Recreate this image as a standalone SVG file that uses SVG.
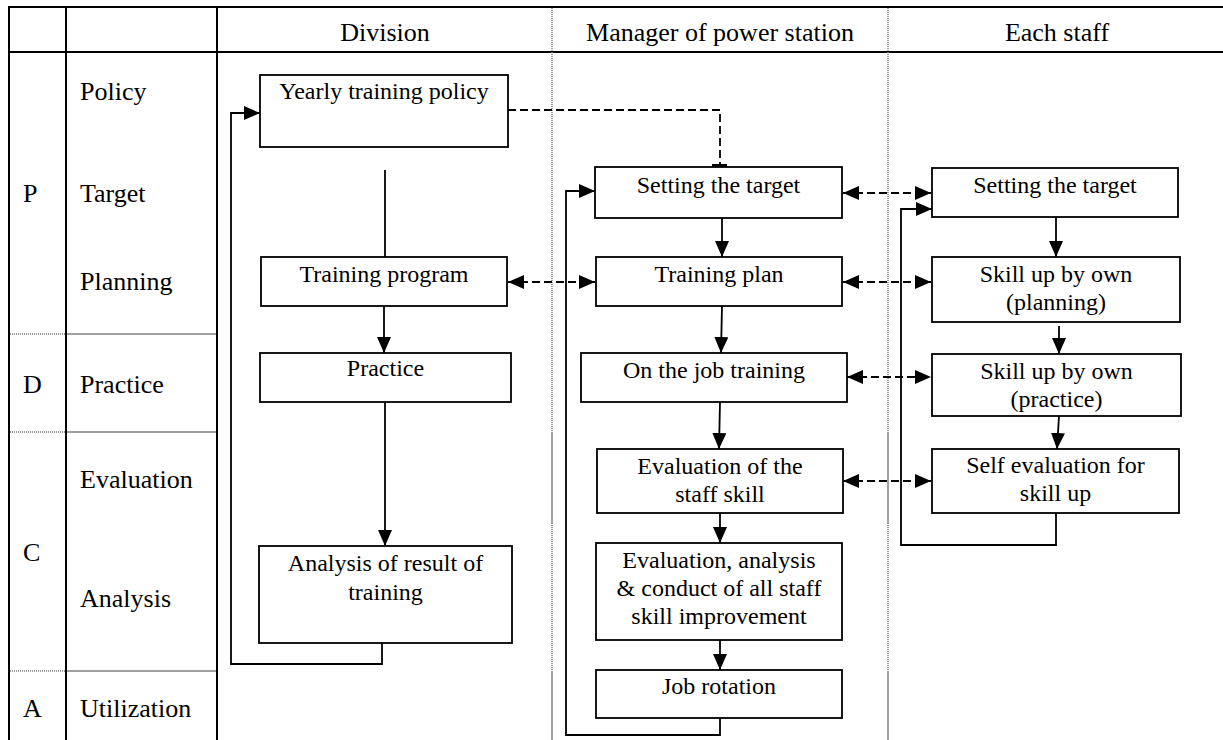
<svg xmlns="http://www.w3.org/2000/svg" width="1223" height="740" viewBox="0 0 1223 740">
  <style>
    .grid { stroke: #000; stroke-width: 2; fill: none; }
    .dot { stroke: #777; stroke-width: 1.5; stroke-dasharray: 1 1; fill: none; }
    .soft { stroke: #a0a0a0; stroke-width: 2; fill: none; }
    .hd { font-size: 26px; fill: #000; }
    .box rect { fill: #fff; stroke: #000; stroke-width: 1.8; }
    .box text { font-size: 24px; fill: #000; text-anchor: middle; }
    .flow { stroke: #000; stroke-width: 1.8; fill: none; }
    .link { stroke: #000; stroke-width: 1.8; fill: none; stroke-dasharray: 8 4; }
  </style>
  <defs>
    <marker id="head" markerUnits="userSpaceOnUse" markerWidth="16" markerHeight="14" refX="16" refY="7" orient="auto">
      <path d="M0,0 L16,7 L0,14 z" fill="#000"/>
    </marker>
    <marker id="tail" markerUnits="userSpaceOnUse" markerWidth="16" markerHeight="14" refX="0" refY="7" orient="auto">
      <path d="M16,0 L0,7 L16,14 z" fill="#000"/>
    </marker>
  </defs>

  <rect width="1223" height="740" fill="#fff"/>

  <!-- table frame -->
  <g id="table">
    <line class="grid" x1="9" y1="7" x2="1223" y2="7"/>
    <line class="grid" x1="9" y1="52" x2="1223" y2="52"/>
    <line class="grid" x1="9" y1="6" x2="9" y2="740"/>
    <line class="grid" x1="66" y1="6" x2="66" y2="740"/>
    <line class="grid" x1="217" y1="6" x2="217" y2="740"/>
    <!-- phase separators -->
    <line class="dot" x1="10" y1="334" x2="66" y2="334"/>
    <line class="soft" x1="67" y1="334" x2="216" y2="334"/>
    <line class="dot" x1="10" y1="432" x2="66" y2="432"/>
    <line class="soft" x1="67" y1="432" x2="216" y2="432"/>
    <line class="dot" x1="10" y1="671" x2="66" y2="671"/>
    <line class="soft" x1="67" y1="671" x2="216" y2="671"/>
    <!-- lane separators -->
    <line class="dot" x1="552" y1="8" x2="552" y2="432"/>
    <line class="soft" x1="552" y1="432" x2="552" y2="523"/>
    <line class="dot" x1="552" y1="523" x2="552" y2="672"/>
    <line class="soft" x1="552" y1="672" x2="552" y2="740"/>
    <line class="dot" x1="888" y1="8" x2="888" y2="432"/>
    <line class="soft" x1="888" y1="432" x2="888" y2="523"/>
    <line class="dot" x1="888" y1="523" x2="888" y2="672"/>
    <line class="soft" x1="888" y1="672" x2="888" y2="740"/>
  </g>

  <!-- headings -->
  <g id="headings" font-family="'Liberation Serif', 'DejaVu Serif', serif">
    <text class="hd" x="385" y="41" text-anchor="middle">Division</text>
    <text class="hd" x="720" y="41" text-anchor="middle">Manager of power station</text>
    <text class="hd" x="1057" y="41" text-anchor="middle">Each staff</text>
    <text class="hd" x="80" y="100">Policy</text>
    <text class="hd" x="23" y="202">P</text>
    <text class="hd" x="80" y="202">Target</text>
    <text class="hd" x="80" y="290">Planning</text>
    <text class="hd" x="23" y="393">D</text>
    <text class="hd" x="80" y="393">Practice</text>
    <text class="hd" x="80" y="488">Evaluation</text>
    <text class="hd" x="23" y="561">C</text>
    <text class="hd" x="80" y="607">Analysis</text>
    <text class="hd" x="23" y="717">A</text>
    <text class="hd" x="80" y="717">Utilization</text>
  </g>

  <!-- connectors -->
  <g id="connectors">
    <line class="flow" x1="385" y1="170" x2="385" y2="257"/>
    <line class="flow" x1="384" y1="306" x2="384" y2="353" marker-end="url(#head)"/>
    <line class="flow" x1="385" y1="402" x2="385" y2="546" marker-end="url(#head)"/>
    <polyline class="flow" points="382,643 382,664 231,664 231,113 260,113" marker-end="url(#head)"/>
    <polyline class="link" points="508,110 720,110 720,165"/>
    <rect x="712" y="164" width="15" height="3" fill="#000"/>
    <polyline class="flow" points="720,718 720,735 566,735 566,191 595,191" marker-end="url(#head)"/>
    <line class="flow" x1="722" y1="218" x2="722" y2="257" marker-end="url(#head)"/>
    <line class="flow" x1="722" y1="306" x2="721" y2="353" marker-end="url(#head)"/>
    <line class="flow" x1="720" y1="402" x2="719" y2="449" marker-end="url(#head)"/>
    <line class="flow" x1="720" y1="513" x2="720" y2="543" marker-end="url(#head)"/>
    <line class="flow" x1="720" y1="640" x2="720" y2="670" marker-end="url(#head)"/>
    <line class="flow" x1="1056" y1="217" x2="1056" y2="257" marker-end="url(#head)"/>
    <line class="flow" x1="1059" y1="326" x2="1059" y2="354" marker-end="url(#head)"/>
    <line class="flow" x1="1059" y1="416" x2="1057" y2="449" marker-end="url(#head)"/>
    <polyline class="flow" points="1056,513 1056,545 901,545 901,209 932,209" marker-end="url(#head)"/>
    <line class="link" x1="508" y1="282" x2="595" y2="282" marker-start="url(#tail)" marker-end="url(#head)"/>
    <line class="link" x1="843" y1="193" x2="931" y2="193" marker-start="url(#tail)" marker-end="url(#head)"/>
    <line class="link" x1="843" y1="282" x2="931" y2="282" marker-start="url(#tail)" marker-end="url(#head)"/>
    <line class="link" x1="847" y1="377" x2="931" y2="377" marker-start="url(#tail)" marker-end="url(#head)"/>
    <line class="link" x1="843" y1="481" x2="931" y2="481" marker-start="url(#tail)" marker-end="url(#head)"/>
  </g>

  <g id="nodes" font-family="'Liberation Serif', 'DejaVu Serif', serif">
    <!-- Division lane -->
    <g id="yearly-policy" class="box">
      <rect x="260" y="75" width="248" height="72"/>
      <text x="384" y="99">Yearly training policy</text>
    </g>
    <g id="training-program" class="box">
      <rect x="261" y="257" width="246" height="49"/>
      <text x="384" y="282">Training program</text>
    </g>
    <g id="division-practice" class="box">
      <rect x="260" y="353" width="251" height="49"/>
      <text x="385.5" y="376">Practice</text>
    </g>
    <g id="result-analysis" class="box">
      <rect x="259" y="546" width="253" height="97"/>
      <text x="385.5" y="571">Analysis of result of</text>
      <text x="385.5" y="600">training</text>
    </g>

    <!-- Manager lane -->
    <g id="manager-target" class="box">
      <rect x="595" y="167" width="247" height="51"/>
      <text x="718.5" y="193">Setting the target</text>
    </g>
    <g id="training-plan" class="box">
      <rect x="596" y="257" width="246" height="49"/>
      <text x="719" y="282">Training plan</text>
    </g>
    <g id="ojt" class="box">
      <rect x="581" y="353" width="266" height="49"/>
      <text x="714" y="378">On the job training</text>
    </g>
    <g id="staff-skill-eval" class="box">
      <rect x="597" y="449" width="246" height="64"/>
      <text x="720" y="474">Evaluation of the</text>
      <text x="720" y="501.5">staff skill</text>
    </g>
    <g id="overall-eval" class="box">
      <rect x="596" y="543" width="246" height="97"/>
      <text x="719" y="568">Evaluation, analysis</text>
      <text x="719" y="596">&amp; conduct of all staff</text>
      <text x="719" y="624">skill improvement</text>
    </g>
    <g id="job-rotation" class="box">
      <rect x="596" y="670" width="246" height="48"/>
      <text x="719" y="694">Job rotation</text>
    </g>

    <!-- Staff lane -->
    <g id="staff-target" class="box">
      <rect x="932" y="168" width="246" height="49"/>
      <text x="1055" y="193">Setting the target</text>
    </g>
    <g id="skill-planning" class="box">
      <rect x="932" y="257" width="248" height="65"/>
      <text x="1056" y="281.5">Skill up by own</text>
      <text x="1056" y="310">(planning)</text>
    </g>
    <g id="skill-practice" class="box">
      <rect x="932" y="354" width="249" height="62"/>
      <text x="1056.5" y="378.5">Skill up by own</text>
      <text x="1056.5" y="406.5">(practice)</text>
    </g>
    <g id="self-eval" class="box">
      <rect x="932" y="449" width="247" height="64"/>
      <text x="1055.5" y="473">Self evaluation for</text>
      <text x="1055.5" y="500.5">skill up</text>
    </g>
  </g>
</svg>
